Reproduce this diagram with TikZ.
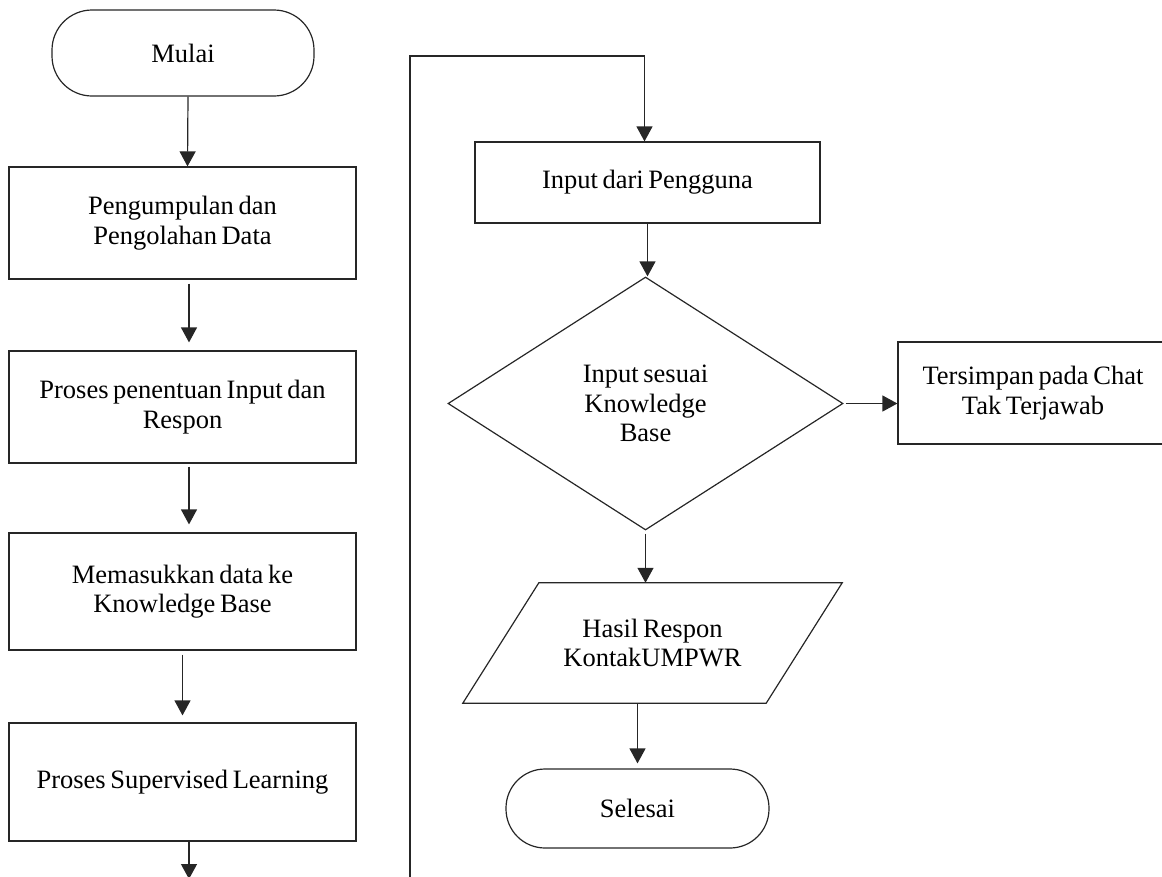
\documentclass[tikz,border=0pt]{standalone}
\usepackage{fontspec}
\setmainfont{Liberation Serif}[WordSpace=0.7]
\usetikzlibrary{shapes.geometric,arrows.meta}
\begin{document}
\begin{tikzpicture}[x=1pt,y=-1pt,
  every node/.style={font=\fontsize{26.5}{29.5}\selectfont, text=black, align=center, inner sep=0pt},
  line/.style={draw=black!85, line width=1.2pt},
  boxnode/.style={line, rectangle, minimum width=347pt},
  term/.style={line, rectangle, rounded corners=40pt},
  arr/.style={line, -{Triangle[width=16pt,length=15pt]}}
]
\useasboundingbox (0,0) rectangle (1162,876);
% left column
\node[term, minimum width=262pt, minimum height=86pt] (mulai) at (183,53) {Mulai};
\node[boxnode, minimum height=112pt] (b1) at (182.5,223) {Pengumpulan dan\\Pengolahan Data};
\node[boxnode, minimum height=112pt] (b2) at (182.5,407) {Proses penentuan Input dan\\Respon};
\node[boxnode, minimum height=117pt] (b3) at (182.5,591.5) {Memasukkan data ke\\Knowledge Base};
\node[boxnode, minimum height=118pt] (b4) at (182.5,782) {Proses Supervised Learning};
\coordinate (bend) at (189,879);
% right column
\node[line, rectangle, minimum width=345pt, minimum height=81pt] (in) at (647.5,182.5) {Input dari Pengguna};
\node[line, diamond, minimum width=395pt, minimum height=253pt] (dec) at (645.5,403.5) {Input sesuai\\Knowledge\\Base};
\node[line, rectangle, minimum width=270pt, minimum height=102pt] (ts) at (1033,393) {Tersimpan pada Chat\\Tak Terjawab};
\node[rectangle, minimum width=303pt, minimum height=120pt] (par) at (652.5,643) {Hasil Respon\\KontakUMPWR};
\draw[line] ([xshift=38pt]par.north west) -- ([xshift=38pt]par.north east) -- ([xshift=-38pt]par.south east) -- ([xshift=-38pt]par.south west) -- cycle;
\node[term, rounded corners=39pt, minimum width=263pt, minimum height=79pt] (sel) at (637.5,808.5) {Selesai};
% loop line
\coordinate (l0) at (410,880);
\coordinate (l1) at (410,56);
% connectors
\draw[arr] ([xshift=5pt]mulai.south) -- ([xshift=5pt]b1.north);
\draw[arr, shorten <=4pt, shorten >=8pt] ([xshift=6.5pt]b1.south) -- ([xshift=6.5pt]b2.north);
\draw[arr, shorten <=3pt, shorten >=8pt] ([xshift=6.5pt]b2.south) -- ([xshift=6.5pt]b3.north);
\draw[arr, shorten <=4pt, shorten >=7pt] (b3.south) -- (b4.north);
\draw[arr] ([xshift=6.5pt]b4.south) -- (bend);
\draw[arr] (l0) -- (l1) -| ([xshift=-3pt]in.north);
\draw[arr] (in.south) -- (in.south |- dec.north);
\draw[arr, shorten <=2pt] (dec.east) -- (dec.east -| ts.west);
\draw[arr, shorten <=3pt] (dec.south) -- (dec.south |- par.north);
\draw[arr, shorten >=5pt] (par.south -| sel.north) -- (sel.north);
\end{tikzpicture}
\end{document}
